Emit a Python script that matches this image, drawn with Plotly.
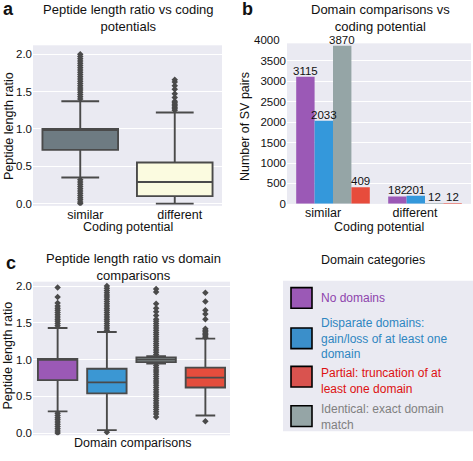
import plotly.graph_objects as go

# ---------------- data ----------------
coding_cats = ["similar", "different"]
a_q1 = [0.72, 0.10]
a_median = [1.00, 0.29]
a_q3 = [1.00, 0.55]
a_lowerfence = [0.35, 0.00]
a_upperfence = [1.37, 1.22]
a_outliers_similar = [1.40, 1.43, 1.46, 1.49, 1.52, 1.55, 1.58, 1.61, 1.64, 1.67, 1.70,
                      1.73, 1.76, 1.79, 1.82, 1.85, 1.88, 1.91, 1.94, 1.97, 2.00,
                      0.32, 0.29, 0.26, 0.23, 0.20, 0.17, 0.14, 0.11, 0.08, 0.05, 0.02, 0.00]
a_outliers_different = [1.25, 1.27, 1.29, 1.31, 1.33, 1.35, 1.37, 1.42, 1.47, 1.53, 1.58, 1.63, 1.66]

domain_cats = ["No domains", "Disparate domains", "Identical", "Partial"]
no_domains_counts = [3115, 182]
disparate_counts = [2033, 201]
identical_counts = [3870, 12]
partial_counts = [409, 12]

c_q1 = [0.72, 0.54, 0.965, 0.62]
c_median = [1.00, 0.69, 1.00, 0.755]
c_q3 = [1.01, 0.875, 1.03, 0.89]
c_lowerfence = [0.295, 0.04, 0.945, 0.24]
c_upperfence = [1.43, 1.375, 1.045, 1.285]
c_outliers_nodomains = [1.46, 1.49, 1.52, 1.55, 1.58, 1.61, 1.64, 1.67, 1.70, 1.73, 1.77,
                        1.85, 1.98, 0.27, 0.24, 0.21, 0.18, 0.15, 0.12, 0.09, 0.06, 0.03, 0.00]
c_outliers_disparate = [1.40, 1.43, 1.46, 1.49, 1.52, 1.55, 1.58, 1.61, 1.64, 1.67, 1.70,
                        1.73, 1.76, 1.79, 1.82, 1.85, 1.88, 1.91, 1.94, 1.97, 2.00, 0.01]
c_outliers_identical = [1.07, 1.10, 1.13, 1.16, 1.19, 1.22, 1.25, 1.28, 1.31, 1.34, 1.37,
                        1.40, 1.43, 1.46, 1.49, 1.52, 1.55, 1.60, 1.65, 1.70, 1.76, 1.92, 1.96,
                        0.92, 0.89, 0.86, 0.83, 0.80, 0.77, 0.74, 0.71, 0.68, 0.65, 0.62, 0.59,
                        0.56, 0.53, 0.50, 0.47, 0.44, 0.41, 0.38, 0.35, 0.32, 0.29, 0.26, 0.22]
c_outliers_partial = [1.30, 1.32, 1.34, 1.36, 1.38, 1.40, 1.42, 1.55, 1.62, 1.67, 1.79, 1.91, 0.16]

ratio_ticks = [0.0, 0.5, 1.0, 1.5, 2.0]
count_ticks = [0, 500, 1000, 1500, 2000, 2500, 3000, 3500]
count_top_tick = 4000

legend_labels = ["No domains",
                 "Disparate domains:<br>gain/loss of at least one<br>domain",
                 "Partial: truncation of at<br>least one domain",
                 "Identical: exact domain<br>match"]

# ---------------- styles ----------------
W, H = 473, 461
FONT = "Liberation Sans, Arial, sans-serif"
TXT = "#111111"
BG = "#EAEAF2"
EDGE = "#4a4a4a"
a_fills = ["#6e7b82", "#fbfbe0"]
c_fills = ["#9b59b6", "#3b97d3", "#8e9a9b", "#e44d3d"]
bar_colors = ["#9b59b6", "#3498db", "#95a5a6", "#e74c3c"]
legend_square_colors = ["#9b59b6", "#3b8fca", "#d9534f", "#95a5a6"]
legend_text_colors = ["#8e44ad", "#2e86c1", "#dd1111", "#808080"]
B_TOP, B_BOT, B_MAX = 43, 206, 3930
BARGAP = 0.2


def fx(px):
    return px / W


def fy(py):
    return 1 - py / H


fig = go.Figure()

# ---------- panel a ----------
for i, cat in enumerate(coding_cats):
    fig.add_trace(go.Box(
        x=[cat], q1=[a_q1[i]], median=[a_median[i]], q3=[a_q3[i]],
        lowerfence=[a_lowerfence[i]], upperfence=[a_upperfence[i]],
        width=0.8, whiskerwidth=0.5, fillcolor=a_fills[i],
        line=dict(color=EDGE, width=1.9), boxpoints=False,
        xaxis="x", yaxis="y", showlegend=False, hoverinfo="skip"))
for cat, vals in zip(coding_cats, [a_outliers_similar, a_outliers_different]):
    fig.add_trace(go.Scatter(
        x=[cat] * len(vals), y=vals, mode="markers",
        marker=dict(symbol="diamond", size=5, color=EDGE),
        xaxis="x", yaxis="y", showlegend=False, hoverinfo="skip"))

# ---------- panel b ----------
bar_series = [no_domains_counts, disparate_counts, identical_counts, partial_counts]
for name, vals, col in zip(domain_cats, bar_series, bar_colors):
    fig.add_trace(go.Bar(
        x=coding_cats, y=vals, name=name, marker=dict(color=col, line=dict(width=0)),
        xaxis="x2", yaxis="y2", showlegend=False, hoverinfo="skip"))

# ---------- panel c ----------
c_outliers = [c_outliers_nodomains, c_outliers_disparate, c_outliers_identical, c_outliers_partial]
for i, cat in enumerate(domain_cats):
    fig.add_trace(go.Box(
        x=[cat], q1=[c_q1[i]], median=[c_median[i]], q3=[c_q3[i]],
        lowerfence=[c_lowerfence[i]], upperfence=[c_upperfence[i]],
        width=0.8, whiskerwidth=0.5, fillcolor=c_fills[i],
        line=dict(color=EDGE, width=1.9), boxpoints=False,
        xaxis="x3", yaxis="y3", showlegend=False, hoverinfo="skip"))
for cat, vals in zip(domain_cats, c_outliers):
    fig.add_trace(go.Scatter(
        x=[cat] * len(vals), y=vals, mode="markers",
        marker=dict(symbol="diamond", size=5, color=EDGE),
        xaxis="x3", yaxis="y3", showlegend=False, hoverinfo="skip"))

axis_common = dict(showline=False, zeroline=False, ticks="", ticklen=0,
                   tickfont=dict(family=FONT, size=11.5, color=TXT))
xtick_font = dict(family=FONT, size=12.5, color=TXT)

fig.update_layout(
    width=W, height=H, margin=dict(l=0, r=0, t=0, b=0),
    paper_bgcolor="white", plot_bgcolor=BG,
    barmode="group", bargap=BARGAP, bargroupgap=0,
    font=dict(family=FONT, color=TXT),
    xaxis=dict(domain=[fx(33), fx(222)], anchor="y", type="category",
               categoryorder="array", categoryarray=coding_cats,
               range=[-0.5, 1.5], showgrid=False, ticklabelshift=5,
               **{**axis_common, "tickfont": xtick_font}),
    yaxis=dict(domain=[fy(208), fy(45)], anchor="x", range=[-0.03, 2.12],
               tickvals=ratio_ticks, ticktext=[f"{v:.1f}" for v in ratio_ticks],
               showgrid=True, gridcolor="white", gridwidth=1, **axis_common),
    xaxis2=dict(domain=[fx(287), fx(471)], anchor="y2", type="category",
                categoryorder="array", categoryarray=coding_cats,
                range=[-0.5, 1.5], showgrid=False, ticklabelshift=-10,
                **{**axis_common, "tickfont": xtick_font}),
    yaxis2=dict(domain=[fy(B_BOT), fy(B_TOP)], anchor="x2", range=[0, B_MAX],
                tickvals=count_ticks, ticktext=[str(v) for v in count_ticks],
                showgrid=True, gridcolor="white", gridwidth=1, **axis_common),
    xaxis3=dict(domain=[fx(33), fx(230)], anchor="y3", type="category",
                categoryorder="array", categoryarray=domain_cats,
                range=[-0.5, 3.5], showgrid=False, showticklabels=False,
                **axis_common),
    yaxis3=dict(domain=[fy(441), fy(285)], anchor="x3", range=[-0.03, 2.06],
                tickvals=ratio_ticks, ticktext=[f"{v:.1f}" for v in ratio_ticks],
                showgrid=True, gridcolor="white", gridwidth=1, **axis_common),
)

ann = []


def text(x, y, s, size=12, color=TXT, bold=False, angle=0, xanchor="center"):
    ann.append(dict(x=fx(x), y=fy(y), xref="paper", yref="paper", text=s,
                    showarrow=False, xanchor=xanchor, yanchor="middle", textangle=angle,
                    align="left" if xanchor == "left" else "center",
                    font=dict(family=FONT, size=size, color=color,
                              weight="bold" if bold else "normal")))


# bar value labels, placed on the bar tops via the bar axes
n_series = len(bar_series)
bar_w = (1 - BARGAP) / n_series
for k, vals in enumerate(bar_series):
    for i, v in enumerate(vals):
        ann.append(dict(x=i - (1 - BARGAP) / 2 + bar_w * (k + 0.5), y=v,
                        xref="x2", yref="y2", text=str(v), showarrow=False,
                        xanchor="center", yanchor="bottom", yshift=-2,
                        font=dict(family=FONT, size=11.5, color=TXT)))

# panel letters
text(8, 8, "a", size=18, bold=True)
text(247, 8, "b", size=18, bold=True)
text(11, 266, "c", size=18, bold=True)
# titles
text(128, 17, "Peptide length ratio vs coding<br>potentials", size=13)
text(380, 17, "Domain comparisons vs<br>coding potential", size=13)
text(133, 270, "Peptide length ratio vs domain<br>comparisons", size=13)
# axis titles
text(128, 229, "Coding potential", size=12.5)
text(9, 127, "Peptide length ratio", size=12.5, angle=-90)
text(379, 229, "Coding potential", size=12.5)
text(245, 128, "Number of SV pairs", size=12.5, angle=-90)
text(132, 449, "Domain comparisons", size=12.5)
text(8, 360, "Peptide length ratio", size=12.5, angle=-90)
# top tick label of panel b, sitting just above the plotting area
b_top_px = B_BOT - count_top_tick * (B_BOT - B_TOP) / B_MAX
text(282, b_top_px - 1, str(count_top_tick), size=11.5, xanchor="right")

# legend panel
text(373, 263, "Domain categories", size=12.5)
shapes = [dict(type="rect", xref="paper", yref="paper", x0=fx(283), x1=fx(473),
               y0=fy(437), y1=fy(284), fillcolor=BG, line=dict(width=0), layer="below")]
square_tops = [291, 332, 371, 411]
text_centers = [302, 343, 386, 422]
for lab, sc, tc, top, tcy in zip(legend_labels, legend_square_colors, legend_text_colors,
                                 square_tops, text_centers):
    shapes.append(dict(type="rect", xref="paper", yref="paper", x0=fx(291), x1=fx(312),
                       y0=fy(top + 21), y1=fy(top), fillcolor=sc,
                       line=dict(color="black", width=1.6)))
    text(319, tcy, lab, size=12, color=tc, xanchor="left")

fig.update_layout(annotations=ann, shapes=shapes)
fig.write_html("out.html", config={"displayModeBar": False},
               post_script="document.body.style.margin='0';document.body.style.overflow='hidden';")
